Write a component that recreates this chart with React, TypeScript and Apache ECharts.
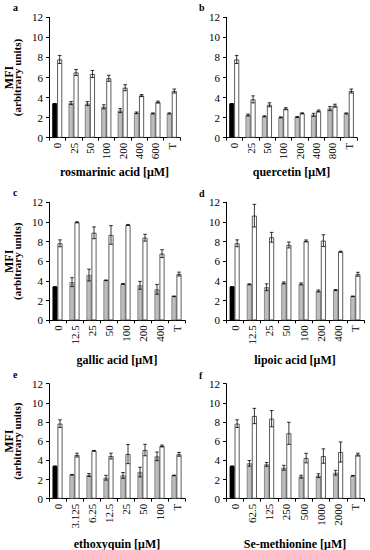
import React, { useEffect, useRef } from 'react';
import * as echarts from 'echarts';

// ---- Data ----
const catsA = ['0', '25', '50', '100', '200', '400', '600', 'T'];
const leftA = [3.4, 3.45, 3.4, 3.08, 2.7, 2.48, 2.42, 2.42];
const leftErrA = [0, 0.15, 0.2, 0.2, 0.2, 0.08, 0.05, 0.05];
const rightA = [7.8, 6.5, 6.35, 5.92, 4.98, 4.2, 3.55, 4.65];
const rightErrA = [0.4, 0.3, 0.35, 0.3, 0.3, 0.1, 0.1, 0.2];

const catsB = ['0', '25', '50', '100', '200', '400', '800', 'T'];
const leftB = [3.4, 2.26, 2.13, 2.03, 2.06, 2.28, 2.9, 2.42];
const leftErrB = [0, 0.1, 0.05, 0.05, 0.05, 0.15, 0.2, 0.05];
const rightB = [7.8, 3.82, 3.28, 2.89, 2.43, 2.66, 3.19, 4.65];
const rightErrB = [0.4, 0.35, 0.2, 0.1, 0.05, 0.1, 0.15, 0.2];

const catsC = ['0', '12.5', '25', '50', '100', '200', '400', 'T'];
const leftC = [3.42, 3.88, 4.6, 4.07, 3.7, 3.56, 3.15, 2.44];
const leftErrC = [0, 0.45, 0.6, 0.03, 0.05, 0.4, 0.5, 0.03];
const rightC = [7.83, 9.97, 8.9, 8.68, 9.7, 8.4, 6.78, 4.7];
const rightErrC = [0.35, 0.05, 0.6, 0.95, 0.05, 0.35, 0.4, 0.2];

const catsD = ['0', '12.5', '25', '50', '100', '200', '400', 'T'];
const leftD = [3.42, 3.66, 3.36, 3.8, 3.7, 2.98, 3.08, 2.44];
const leftErrD = [0, 0.05, 0.35, 0.1, 0.1, 0.1, 0.05, 0.03];
const rightD = [7.83, 10.64, 8.44, 7.66, 8.07, 8.1, 6.98, 4.68];
const rightErrD = [0.35, 1.15, 0.5, 0.3, 0.1, 0.6, 0.05, 0.2];

const catsE = ['0', '3.125', '6.25', '12.5', '25', '50', '100', 'T'];
const leftE = [3.4, 2.5, 2.47, 2.19, 2.43, 2.78, 4.42, 2.43];
const leftErrE = [0, 0.03, 0.15, 0.25, 0.3, 0.5, 0.45, 0.03];
const rightE = [7.83, 4.55, 5.0, 4.45, 4.66, 5.08, 5.5, 4.63];
const rightErrE = [0.4, 0.2, 0.03, 0.3, 1.0, 0.6, 0.1, 0.2];

const catsF = ['0', '62.5', '125', '250', '500', '1000', '2000', 'T'];
const leftF = [3.4, 3.69, 3.58, 3.23, 2.3, 2.4, 2.71, 2.4];
const leftErrF = [0, 0.3, 0.2, 0.25, 0.15, 0.2, 0.25, 0.03];
const rightF = [7.83, 8.63, 8.35, 6.82, 4.24, 4.45, 4.87, 4.6];
const rightErrF = [0.4, 0.8, 0.85, 1.15, 0.5, 0.75, 1.05, 0.15];

const xNames = [
  'rosmarinic acid [μM]',
  'quercetin [μM]',
  'gallic acid [μM]',
  'lipoic acid [μM]',
  'ethoxyquin [μM]',
  'Se-methionine [μM]',
];
const letters = ['a', 'b', 'c', 'd', 'e', 'f'];
const yTitle = 'MFI';
const ySubTitle = '(arbitrary units)';

// ---- Layout ----
const FONT = 'Liberation Serif, Times New Roman, serif';
const BAR_W = 5;

const panels = [
  { cats: catsA, left: leftA, leftErr: leftErrA, right: rightA, rightErr: rightErrA,
    grid: { left: 49, top: 17.3, width: 131, height: 120.4 }, nameY: 172, letterX: 13, letterY: 7, yName: true },
  { cats: catsB, left: leftB, leftErr: leftErrB, right: rightB, rightErr: rightErrB,
    grid: { left: 226, top: 17.3, width: 131, height: 120.4 }, nameY: 172, letterX: 199, letterY: 7, yName: false },
  { cats: catsC, left: leftC, leftErr: leftErrC, right: rightC, rightErr: rightErrC,
    grid: { left: 49, top: 202.3, width: 136, height: 118 }, nameY: 360, letterX: 13, letterY: 192, yName: true },
  { cats: catsD, left: leftD, leftErr: leftErrD, right: rightD, rightErr: rightErrD,
    grid: { left: 226, top: 202.3, width: 138, height: 118 }, nameY: 360, letterX: 199, letterY: 193, yName: false },
  { cats: catsE, left: leftE, leftErr: leftErrE, right: rightE, rightErr: rightErrE,
    grid: { left: 49, top: 383.7, width: 136, height: 115 }, nameY: 544, letterX: 13, letterY: 374, yName: true },
  { cats: catsF, left: leftF, leftErr: leftErrF, right: rightF, rightErr: rightErrF,
    grid: { left: 226, top: 383.7, width: 138, height: 115 }, nameY: 544, letterX: 199, letterY: 375, yName: false },
];

function buildOption() {
  const grids: any[] = [];
  const xAxes: any[] = [];
  const yAxes: any[] = [];
  const series: any[] = [];
  const graphics: any[] = [];

  panels.forEach((p, i) => {
    grids.push({ ...p.grid, containLabel: false });
    xAxes.push({
      type: 'category',
      gridIndex: i,
      data: p.cats,
      axisLine: { show: true, lineStyle: { color: '#000', width: 1 } },
      axisTick: { show: true, length: 3, alignWithLabel: false, lineStyle: { color: '#000' } },
      axisLabel: { interval: 0, rotate: 90, fontFamily: FONT, fontSize: 11, color: '#000', margin: 5 },
      splitLine: { show: false },
    });
    yAxes.push({
      type: 'value',
      gridIndex: i,
      min: 0,
      max: 12,
      interval: 2,
      axisLine: { show: true, lineStyle: { color: '#000', width: 1 } },
      axisTick: { show: true, length: 3, lineStyle: { color: '#000' } },
      axisLabel: { fontFamily: FONT, fontSize: 11, color: '#000', margin: 6 },
      splitLine: { show: false },
    });
    series.push({
      type: 'bar',
      xAxisIndex: i,
      yAxisIndex: i,
      barWidth: BAR_W,
      barGap: '0%',
      itemStyle: { color: '#bdbdbd', borderColor: '#555', borderWidth: 0.6 },
      data: p.left.map((v, k) =>
        k === 0 ? { value: v, itemStyle: { color: '#000', borderColor: '#000' } } : v
      ),
    });
    series.push({
      type: 'bar',
      xAxisIndex: i,
      yAxisIndex: i,
      barWidth: BAR_W,
      barGap: '0%',
      itemStyle: { color: '#fff', borderColor: '#333', borderWidth: 0.8 },
      data: p.right,
    });
    const errData: number[][] = [];
    p.left.forEach((v, k) => errData.push([k, v - p.leftErr[k], v + p.leftErr[k], -1]));
    p.right.forEach((v, k) => errData.push([k, v - p.rightErr[k], v + p.rightErr[k], 1]));
    series.push({
      type: 'custom',
      xAxisIndex: i,
      yAxisIndex: i,
      z: 5,
      encode: { x: 0, y: [1, 2] },
      data: errData,
      renderItem: (params: any, api: any) => {
        const xi = api.value(0);
        const lo = api.value(1);
        const hi = api.value(2);
        const side = api.value(3);
        const pLo = api.coord([xi, lo]);
        const pHi = api.coord([xi, hi]);
        const x = pLo[0] + side * (BAR_W / 2);
        const cap = 1.8;
        const style = { stroke: '#000', lineWidth: 0.8 };
        return {
          type: 'group',
          children: [
            { type: 'line', shape: { x1: x, y1: pLo[1], x2: x, y2: pHi[1] }, style },
            { type: 'line', shape: { x1: x - cap, y1: pHi[1], x2: x + cap, y2: pHi[1] }, style },
            { type: 'line', shape: { x1: x - cap, y1: pLo[1], x2: x + cap, y2: pLo[1] }, style },
          ],
        };
      },
    });

    graphics.push({
      type: 'text',
      x: p.grid.left + p.grid.width / 2,
      y: p.nameY,
      style: {
        text: xNames[i],
        fontFamily: FONT,
        fontSize: 12,
        fontWeight: 'bold',
        fill: '#000',
        textAlign: 'center',
        textVerticalAlign: 'middle',
      },
    });
    graphics.push({
      type: 'text',
      x: p.letterX,
      y: p.letterY,
      style: {
        text: letters[i],
        fontFamily: FONT,
        fontSize: 10,
        fontWeight: 'bold',
        fill: '#000',
        textAlign: 'left',
        textVerticalAlign: 'middle',
      },
    });
    if (p.yName) {
      const cy = p.grid.top + p.grid.height / 2;
      graphics.push({
        type: 'text',
        x: 8.5,
        y: cy,
        rotation: Math.PI / 2,
        style: {
          text: yTitle,
          fontFamily: FONT,
          fontSize: 12,
          fontWeight: 'bold',
          fill: '#000',
          textAlign: 'center',
          textVerticalAlign: 'middle',
        },
      });
      graphics.push({
        type: 'text',
        x: 17,
        y: cy,
        rotation: Math.PI / 2,
        style: {
          text: ySubTitle,
          fontFamily: FONT,
          fontSize: 11,
          fontWeight: 'bold',
          fill: '#000',
          textAlign: 'center',
          textVerticalAlign: 'middle',
        },
      });
    }
  });

  return {
    animation: false,
    backgroundColor: '#fff',
    grid: grids,
    xAxis: xAxes,
    yAxis: yAxes,
    series,
    graphic: graphics,
  };
}

export default function App() {
  const ref = useRef<HTMLDivElement>(null);
  useEffect(() => {
    document.body.style.margin = '0';
    if (!ref.current) return;
    const chart = echarts.init(ref.current, null, { renderer: 'svg' });
    chart.setOption(buildOption() as any);
    return () => chart.dispose();
  }, []);
  return <div ref={ref} style={{ width: 370, height: 550, position: 'absolute', left: 0, top: 0 }} />;
}
